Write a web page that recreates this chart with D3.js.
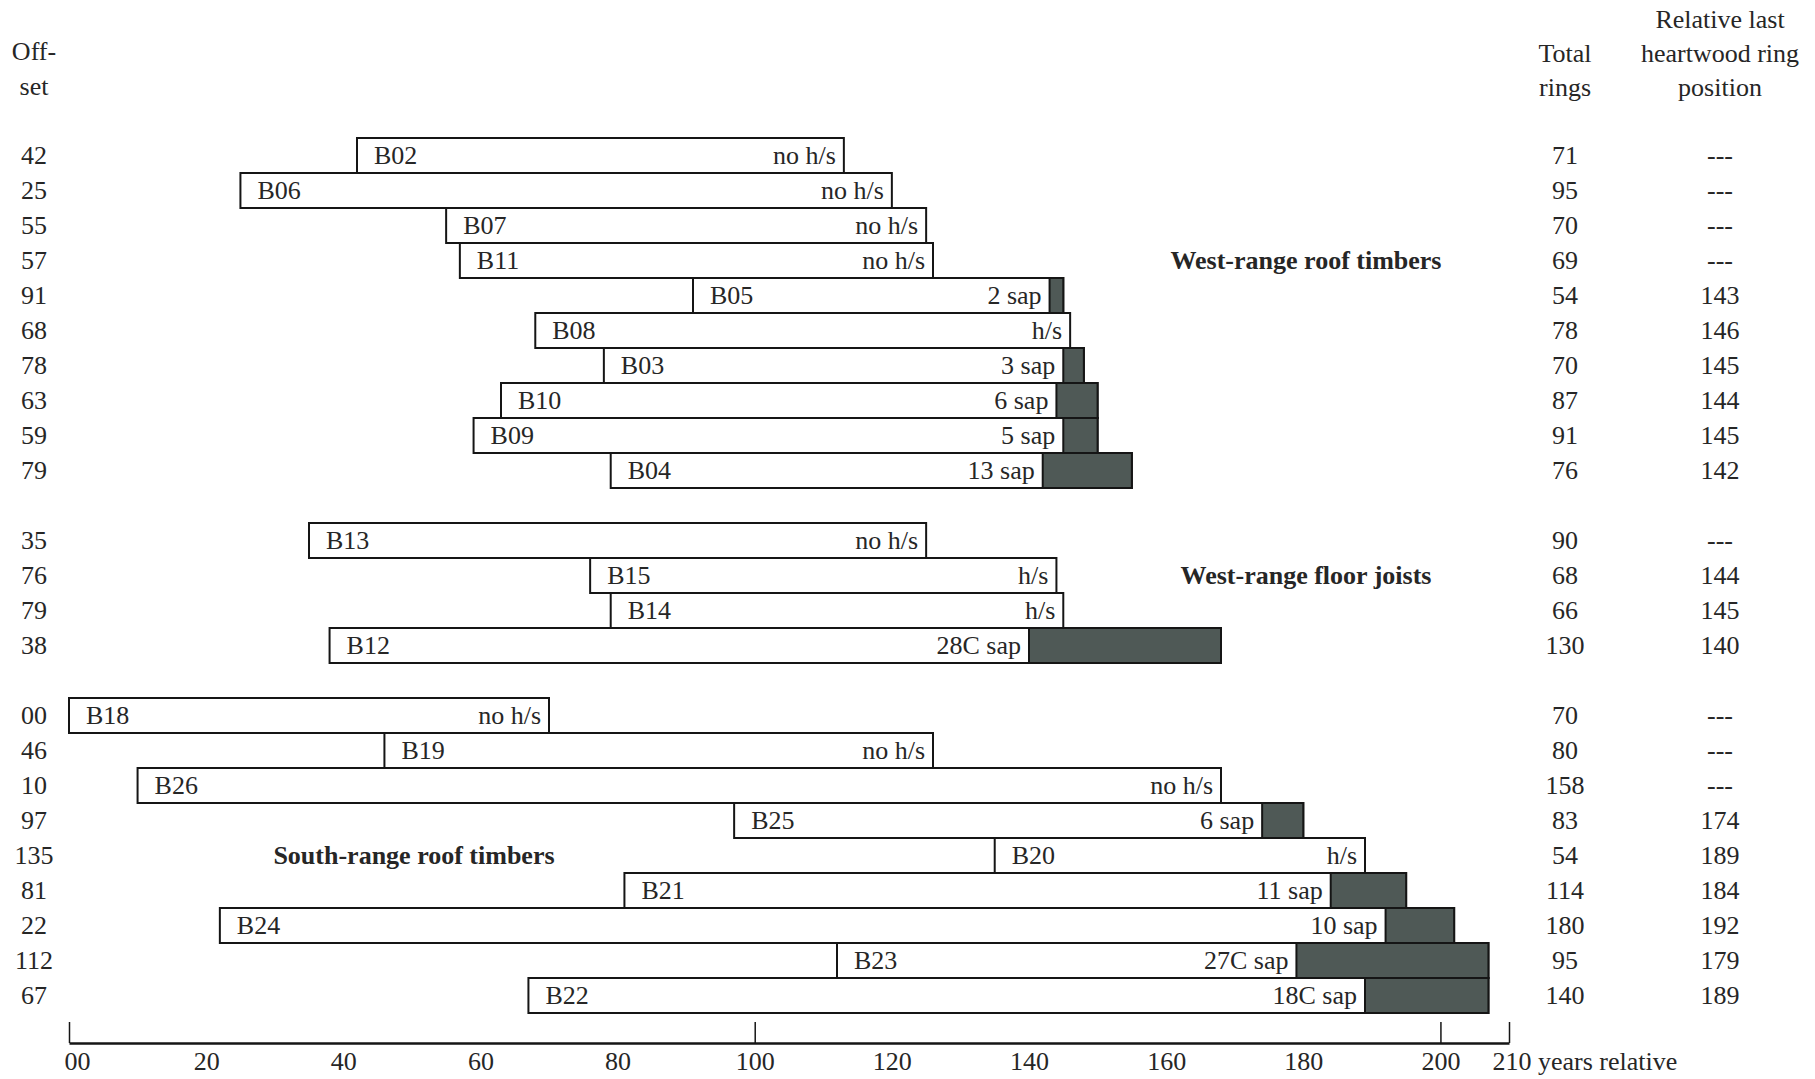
<!DOCTYPE html>
<html>
<head>
<meta charset="utf-8">
<script src="https://cdn.jsdelivr.net/npm/d3@7"></script>
<style>
  html, body { margin: 0; padding: 0; background: #fff; }
  svg { display: block; }
  text { font-family: "Liberation Serif", "Times New Roman", serif; fill: #262626; }
</style>
</head>
<body>
<svg id="chart" width="1815" height="1079"></svg>
<script>
// ---- data ----
const ids = ["B02","B06","B07","B11","B05","B08","B03","B10","B09","B04",
             "B13","B15","B14","B12",
             "B18","B19","B26","B25","B20","B21","B24","B23","B22"];
const offsets = [42,25,55,57,91,68,78,63,59,79,
                 35,76,79,38,
                 0,46,10,97,135,81,22,112,67];
const totalRings = [71,95,70,69,54,78,70,87,91,76,
                    90,68,66,130,
                    70,80,158,83,54,114,180,95,140];
const lastHeartwood = [null,null,null,null,143,146,145,144,145,142,
                       null,144,145,140,
                       null,null,null,174,189,184,192,179,189];
const endNotes = ["no h/s","no h/s","no h/s","no h/s","2 sap","h/s","3 sap","6 sap","5 sap","13 sap",
                  "no h/s","h/s","h/s","28C sap",
                  "no h/s","no h/s","no h/s","6 sap","h/s","11 sap","10 sap","27C sap","18C sap"];
const groupOf = [0,0,0,0,0,0,0,0,0,0, 1,1,1,1, 2,2,2,2,2,2,2,2,2];
const groupNames = ["West-range roof timbers","West-range floor joists","South-range roof timbers"];
const groupLabelSample = ["B11","B15","B20"];
const axisLabelTicks = [0,20,40,60,80,100,120,140,160,180,200,210];
const axisMarkTicks = [0,100,200,210];

// ---- layout ----
const svg = d3.select("#chart");
const x = d3.scaleLinear().domain([0, 210]).range([69, 1509]);
const rowIndex = ids.map((d, i) => i + groupOf[i]);
const y = d3.scaleBand().domain(d3.range(25)).range([138, 138 + 35 * 25]).padding(0);
const rows = ids.map((id, i) => ({
  id, offset: offsets[i], total: totalRings[i], heart: lastHeartwood[i],
  note: endNotes[i], row: rowIndex[i], end: offsets[i] + totalRings[i]
}));
const FS = 26;
const colOffset = 34, colTotal = 1565, colRel = 1720;
const base = r => y(r) + y.bandwidth() / 2 + 8;

// headers
const hdr = svg.append("g").attr("font-size", FS);
hdr.append("text").attr("x", colOffset).attr("y", 60).attr("text-anchor", "middle").text("Off-");
hdr.append("text").attr("x", colOffset).attr("y", 95).attr("text-anchor", "middle").text("set");
hdr.append("text").attr("x", colTotal).attr("y", 62).attr("text-anchor", "middle").text("Total");
hdr.append("text").attr("x", colTotal).attr("y", 96).attr("text-anchor", "middle").text("rings");
hdr.append("text").attr("x", colRel).attr("y", 28).attr("text-anchor", "middle").text("Relative last");
hdr.append("text").attr("x", colRel).attr("y", 62).attr("text-anchor", "middle").text("heartwood ring");
hdr.append("text").attr("x", colRel).attr("y", 96).attr("text-anchor", "middle").text("position");

// bars
const g = svg.append("g");
const rowG = g.selectAll("g.row").data(rows).join("g").attr("class", "row");

rowG.append("rect")
  .attr("x", d => x(d.offset))
  .attr("y", d => y(d.row))
  .attr("width", d => x(d.end) - x(d.offset))
  .attr("height", y.bandwidth())
  .attr("fill", "#fff")
  .attr("stroke", "#151515")
  .attr("stroke-width", 2);

rowG.filter(d => d.heart !== null && d.heart < d.end).append("rect")
  .attr("x", d => x(d.heart))
  .attr("y", d => y(d.row))
  .attr("width", d => x(d.end) - x(d.heart))
  .attr("height", y.bandwidth())
  .attr("fill", "#4f5956")
  .attr("stroke", "#151515")
  .attr("stroke-width", 2);

rowG.append("text")
  .attr("font-size", FS)
  .attr("x", d => x(d.offset) + 17)
  .attr("y", d => base(d.row))
  .text(d => d.id);

rowG.append("text")
  .attr("font-size", FS)
  .attr("text-anchor", "end")
  .attr("x", d => x(d.heart !== null ? Math.min(d.heart, d.end) : d.end) - 8)
  .attr("y", d => base(d.row))
  .text(d => d.note);

// columns
const fmt2 = d3.format("02d");
rowG.append("text")
  .attr("font-size", FS).attr("text-anchor", "middle")
  .attr("x", colOffset).attr("y", d => base(d.row))
  .text(d => fmt2(d.offset));
rowG.append("text")
  .attr("font-size", FS).attr("text-anchor", "middle")
  .attr("x", colTotal).attr("y", d => base(d.row))
  .text(d => d.total);
rowG.append("text")
  .attr("font-size", FS).attr("text-anchor", "middle")
  .attr("x", colRel).attr("y", d => base(d.row))
  .text(d => d.heart === null ? "---" : d.heart);

// group labels
const groupLabelX = [1306, 1306, 414];
groupNames.forEach((name, gi) => {
  const r = rows.find(d => d.id === groupLabelSample[gi]).row;
  svg.append("text")
    .attr("font-size", FS).attr("font-weight", "bold")
    .attr("text-anchor", "middle")
    .attr("x", groupLabelX[gi]).attr("y", base(r))
    .text(name);
});

// axis
const axisY = 1043;
const axMarks = svg.append("g").attr("transform", `translate(0,${axisY})`)
  .call(d3.axisTop(x).tickValues(axisMarkTicks).tickSize(21).tickSizeOuter(0).tickFormat(""));
axMarks.select(".domain").attr("stroke", "#151515").attr("stroke-width", 2.5);
axMarks.selectAll(".tick line").attr("stroke", "#151515").attr("stroke-width", 1.5);

const axLabels = svg.append("g").attr("transform", `translate(0,${axisY})`)
  .call(d3.axisBottom(x).tickValues(axisLabelTicks).tickSize(0).tickPadding(0)
    .tickFormat(d => d === 0 ? "00" : String(d)));
axLabels.select(".domain").remove();
axLabels.selectAll(".tick text")
  .attr("font-size", FS).attr("font-family", "Liberation Serif, serif")
  .attr("fill", "#262626").attr("dy", null).attr("y", 27)
  .attr("text-anchor", d => d === 210 ? "start" : "middle")
  .attr("x", d => d === 0 ? 8 : (d === 210 ? -17 : 0));
axLabels.selectAll(".tick").filter(d => d === 210).select("text")
  .text("210 years relative");
</script>
</body>
</html>
